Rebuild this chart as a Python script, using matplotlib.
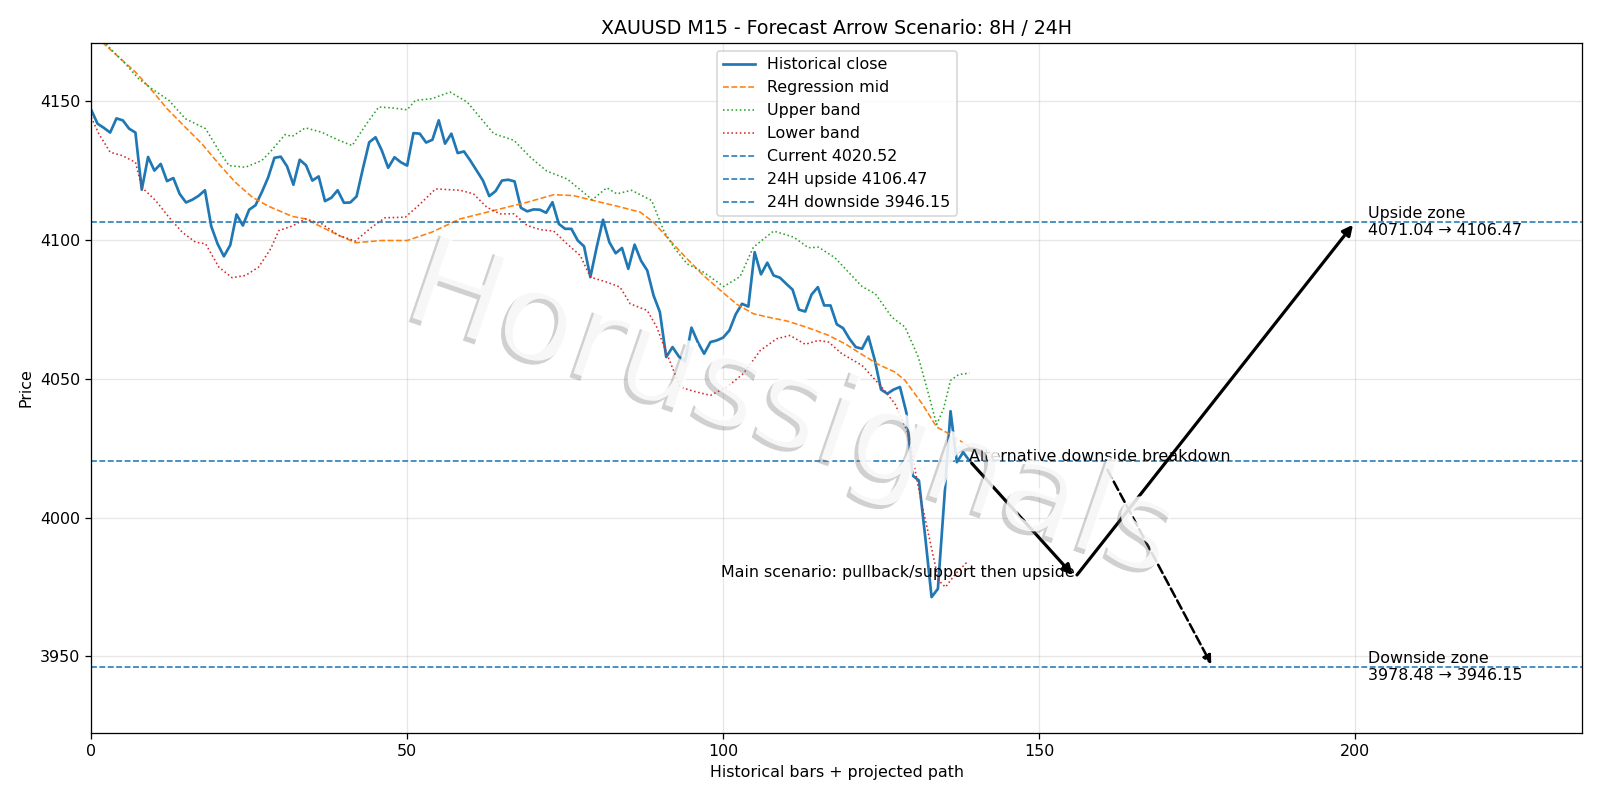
import matplotlib
matplotlib.use("Agg")
import matplotlib.pyplot as plt
import matplotlib.patheffects as pe
import numpy as np

# historical M15 closes (bar 0..139)
close = [4147.0, 4142.0, 4140.5, 4138.8, 4143.9, 4143.2, 4140.2, 4138.8, 4118.2, 4130.0,
         4125.1, 4127.5, 4121.3, 4122.4, 4116.7, 4113.6, 4114.6, 4116.0, 4118.0, 4105.0,
         4098.7, 4094.2, 4098.2, 4109.3, 4105.3, 4111.0, 4112.6, 4117.3, 4122.6, 4129.7,
         4130.1, 4126.6, 4120.0, 4129.0, 4127.0, 4121.5, 4123.0, 4114.1, 4115.3, 4118.0,
         4113.5, 4113.6, 4115.8, 4125.8, 4135.3, 4137.1, 4132.3, 4126.1, 4129.9, 4128.1,
         4126.9, 4138.6, 4138.4, 4135.2, 4136.2, 4143.2, 4134.8, 4138.4, 4131.4, 4132.0,
         4128.7, 4125.1, 4121.5, 4115.9, 4117.7, 4121.5, 4121.8, 4121.2, 4111.7, 4110.4,
         4111.1, 4111.0, 4109.9, 4113.7, 4105.9, 4104.1, 4104.1, 4099.9, 4097.8, 4086.7,
         4097.5, 4107.4, 4099.3, 4095.3, 4097.2, 4089.7, 4098.4, 4092.7, 4089.1, 4080.1,
         4074.1, 4057.9, 4061.5, 4058.1, 4056.4, 4068.5, 4063.3, 4059.1, 4063.3, 4063.9,
         4064.9, 4067.5, 4073.3, 4077.1, 4076.1, 4095.7, 4087.7, 4091.9, 4087.3, 4086.5,
         4084.3, 4082.2, 4075.0, 4074.3, 4080.4, 4083.1, 4076.5, 4076.5, 4069.7, 4068.3,
         4064.5, 4061.5, 4060.9, 4065.3, 4056.9, 4046.2, 4044.7, 4046.2, 4047.1, 4038.0,
         4015.2, 4013.4, 3993.0, 3971.4, 3974.4, 4006.2, 4038.4, 4020.0, 4023.6, 4020.52]

# regression mid line (read at these bar positions)
mid_x = [0, 2, 7, 9.6, 12, 14.9, 17.5, 20.2, 22.8, 25.5, 28, 31.8, 33.9, 38.1, 41.8, 46, 50,
         53.9, 56.8, 58.4, 63.7, 69, 73.2, 76.3, 79.5, 83.7, 86.9, 89, 91.6, 94.3, 96.9, 99.6,
         102.2, 104.8, 107.5, 110.1, 113, 114.6, 116.7, 119.3, 122, 124.6, 127.2, 128.8,
         131.5, 133.8, 136.2, 139]
mid_y = [4176.0, 4170.8, 4160.6, 4154.0, 4147.4, 4140.7, 4134.8, 4127.5, 4120.9, 4115.5,
         4112.3, 4108.6, 4107.7, 4102.9, 4099.1, 4099.9, 4099.9, 4102.9, 4106.0, 4107.7,
         4110.7, 4113.7, 4116.4, 4116.1, 4114.3, 4112.0, 4110.1, 4106.5, 4099.9, 4093.3,
         4087.3, 4081.9, 4076.9, 4073.5, 4072.1, 4070.9, 4068.8, 4067.5, 4065.7, 4062.7,
         4058.8, 4055.2, 4052.5, 4049.5, 4041.1, 4032.7, 4029.7, 4025.5]

upper_x = [0, 2.8, 5.4, 7.5, 9.6, 12.3, 14.9, 18.1, 20.2, 21.8, 24.4, 27, 28.4, 30.7, 31.8,
           33.9, 36.5, 39.2, 41.3, 43.4, 45.5, 47.6, 50, 51.3, 53.9, 56.8, 59.5, 63.7, 66.9,
           69.5, 72.1, 75.3, 77.4, 79.3, 81.6, 83.2, 85.5, 88.7, 90.6, 92.2, 94.3, 96.9,
           100.1, 102.7, 104.8, 108, 111.2, 113.5, 115.1, 117.7, 122, 124.1, 126.7, 128.8,
           130.9, 132.5, 133.8, 134.9, 136, 137.3, 139]
upper_y = [4178.0, 4169.6, 4163.6, 4158.2, 4154.6, 4150.4, 4143.8, 4140.2, 4132.3, 4126.9,
           4126.3, 4128.7, 4132.0, 4138.1, 4137.4, 4140.5, 4138.9, 4136.0, 4134.1, 4141.4,
           4148.0, 4147.7, 4147.0, 4150.4, 4151.0, 4153.4, 4149.8, 4138.4, 4136.0, 4129.9,
           4124.9, 4122.1, 4118.2, 4114.6, 4118.9, 4116.7, 4118.0, 4114.3, 4103.5, 4097.5,
           4091.5, 4088.5, 4083.3, 4086.9, 4097.5, 4103.3, 4101.1, 4097.3, 4097.5, 4093.7,
           4083.3, 4080.7, 4072.3, 4068.7, 4057.9, 4044.7, 4033.6, 4039.3, 4049.5, 4051.6,
           4052.1]

lower_x = [0, 1.2, 3, 4.9, 7, 8, 10.2, 12.3, 14.4, 16.5, 18.1, 20.2, 22.3, 24.4, 26.5, 28.4,
           29.7, 31.8, 33.9, 36.5, 39.2, 41.8, 44.4, 46.5, 49.7, 51.8, 54.5, 58.4, 60.5, 62.6,
           64.7, 66.9, 69, 71.1, 73.2, 75.3, 77.4, 79, 81.6, 83.7, 85.3, 88, 89.5, 91.1, 93.2,
           95.3, 98, 100.6, 103.2, 105.9, 108.5, 110.6, 113, 115.1, 116.7, 118.8, 122, 125.1,
           127.2, 129.3, 130.9, 132.5, 134.1, 135.2, 136.8, 138.6]
lower_y = [4144.3, 4138.4, 4131.7, 4130.5, 4128.1, 4119.1, 4114.3, 4108.3, 4102.9, 4099.3,
           4098.7, 4090.3, 4086.5, 4087.3, 4090.3, 4096.9, 4103.5, 4105.1, 4107.7, 4105.9,
           4101.7, 4099.7, 4104.7, 4108.1, 4108.3, 4112.5, 4118.5, 4118.0, 4116.7, 4111.9,
           4109.5, 4109.5, 4105.3, 4103.8, 4103.3, 4098.7, 4094.5, 4086.7, 4084.9, 4083.1,
           4077.1, 4074.7, 4068.7, 4059.1, 4047.1, 4045.6, 4044.1, 4047.1, 4051.9, 4060.3,
           4064.5, 4065.7, 4062.5, 4063.9, 4063.3, 4059.1, 4054.9, 4047.1, 4041.1, 4030.3,
           4011.0, 3994.2, 3977.4, 3975.0, 3979.8, 3984.0]

current = 4020.52
up_24h = 4106.47
down_24h = 3946.15
up_zone = (4071.04, 4106.47)
down_zone = (3978.48, 3946.15)

# projected path (bar positions)
last_x = len(close) - 1
pull_x, pull_y = 155.7, 3978.48
up_end_x = 200
alt_end_x = 177.5

fig, ax = plt.subplots(figsize=(14, 7), dpi=800 / 7)
fig.subplots_adjust(left=0.057, right=0.989, top=0.946, bottom=0.084)

x = np.arange(len(close))
ax.plot(x, close, color="C0", lw=1.7, label="Historical close")
ax.plot(mid_x, mid_y, color="C1", ls="--", lw=1.0, label="Regression mid")
ax.plot(upper_x, upper_y, color="C2", ls=":", lw=1.0, label="Upper band")
ax.plot(lower_x, lower_y, color="C3", ls=":", lw=1.0, label="Lower band")
ax.axhline(current, color="C0", ls="--", lw=1.0, label=f"Current {current:.2f}")
ax.axhline(up_24h, color="C0", ls="--", lw=1.0, label=f"24H upside {up_24h:.2f}")
ax.axhline(down_24h, color="C0", ls="--", lw=1.0, label=f"24H downside {down_24h:.2f}")

# main scenario: pullback then upside
ax.annotate("", xy=(pull_x, pull_y), xytext=(last_x, current),
            arrowprops=dict(arrowstyle="-|>", color="black", lw=2.0, mutation_scale=13))
ax.annotate("", xy=(up_end_x, up_24h), xytext=(pull_x, pull_y),
            arrowprops=dict(arrowstyle="-|>", color="black", lw=2.0, mutation_scale=13))
ax.text(pull_x, pull_y, "Main scenario: pullback/support then upside", ha="right", fontsize=10)

# alternative
ax.annotate("Alternative downside breakdown", xy=(alt_end_x, down_24h), xytext=(last_x, current),
            fontsize=10,
            arrowprops=dict(arrowstyle="-|>", color="black", lw=1.6, ls="--", mutation_scale=11))

ax.text(up_end_x + 2, up_24h, f"Upside zone\n{up_zone[0]:.2f} \u2192 {up_zone[1]:.2f}",
        va="center", fontsize=10)
ax.text(up_end_x + 2, down_24h, f"Downside zone\n{down_zone[0]:.2f} \u2192 {down_zone[1]:.2f}",
        va="center", fontsize=10)

ax.set_xlim(0, 236)
ax.set_ylim(3922.5, 4171)
ax.set_title("XAUUSD M15 - Forecast Arrow Scenario: 8H / 24H", fontsize=12)
ax.set_xlabel("Historical bars + projected path")
ax.set_ylabel("Price")
ax.grid(alpha=0.3)
ax.legend(loc="upper center", fontsize=10)

# watermark: white text with a soft grey drop shadow
fig.text(0.495, 0.485, "Horussignals", fontsize=79, color="white", alpha=0.85,
         rotation=-19, ha="center", va="center",
         path_effects=[pe.withSimplePatchShadow(offset=(-2.5, -2.5), shadow_rgbFace="0.4", alpha=0.3)])

plt.savefig("out.png")
